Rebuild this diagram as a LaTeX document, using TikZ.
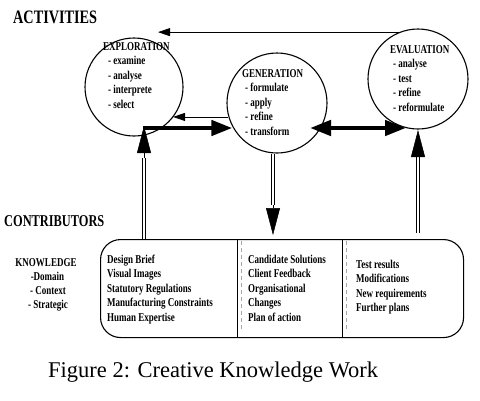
\documentclass[tikz,border=0pt]{standalone}
\usepackage{fontspec}
\setmainfont{Liberation Serif}
\newfontfamily\cond{Liberation Serif}[FakeStretch=0.75]
\usetikzlibrary{arrows.meta}
\begin{document}
\begin{tikzpicture}[x=1pt,y=-1pt,
  txt/.style={inner sep=0pt, anchor=base west, font={\cond\bfseries\fontsize{12}{14}\selectfont}},
  ctxt/.style={txt, anchor=base},
  head/.style={inner sep=0pt, anchor=base west, font={\cond\bfseries\fontsize{19}{22}\selectfont}},
  act/.style={draw, circle, line width=1.1pt, inner sep=0pt},
  thinarrow/.style={line width=0.8pt, -{Triangle[length=12pt,width=8pt]}},
  thickarrow/.style={line width=4.5pt, -{Triangle[length=21pt,width=15pt]}},
  thickboth/.style={line width=4.5pt, {Triangle[length=21pt,width=15pt]}-{Triangle[length=21pt,width=15pt]}},
  dbl/.style={double, line width=0.7pt, double distance=2pt},
  bighead/.style={line width=0.5pt, -{Triangle[length=27pt,width=14pt]}},
]
\useasboundingbox (0,0) rectangle (480,400);

% titles
\node[head] (activities) at (13,23) {ACTIVITIES};
\node[head, font={\cond\bfseries\fontsize{16.5}{20}\selectfont}] (contrib) at (4,226) {CONTRIBUTORS};

% circles
\node[act, minimum size=98pt] (expl) at (134,87) {};
\node[act, minimum size=100pt] (gen) at (277,103) {};
\node[act, minimum size=100pt] (eval) at (418,79) {};

% circle texts
\node[txt] (explT) at (103,50) {EXPLORATION};
\foreach \t [count=\i] in {- examine, - analyse, - interprete, - select}
  \node[txt] (ex\i) at (108,{50+14.5*\i}) {\t};
\node[txt] (genT) at (242,77) {GENERATION};
\foreach \t [count=\i] in {- formulate, - apply, - refine, - transform}
  \node[txt] (ge\i) at (245,{77+14.5*\i}) {\t};
\node[txt] (evalT) at (390,53) {EVALUATION};
\foreach \t [count=\i] in {- analyse, - test, - refine, - reformulate}
  \node[txt] (ev\i) at (393,{53+14.5*\i}) {\t};

% contributors box
\node[draw, line width=1.1pt, rounded corners=20pt, minimum width=363pt, minimum height=98pt,
      anchor=north west, inner sep=0pt] (box) at (100,239) {};
\draw[line width=0.9pt] (237,239) -- (237,337);
\draw[line width=0.9pt] (342,239) -- (342,337);
\draw[gray!70, line width=0.5pt, dash pattern=on 4pt off 3pt] (241,241) -- (241,330);
\draw[gray!70, line width=0.5pt, dash pattern=on 4pt off 3pt] (346,241) -- (346,330);

\foreach \t [count=\i] in {Design Brief, Visual Images, Statutory Regulations, Manufacturing Constraints, Human Expertise}
  \node[txt] (b\i) at (107,{248.5+14.5*\i}) {\t};
\foreach \t [count=\i] in {Candidate Solutions, Client Feedback, Organisational, Changes, Plan of action}
  \node[txt] (c\i) at (248,{248.5+14.5*\i}) {\t};
\foreach \t [count=\i] in {Test results, Modifications, New requirements, Further plans}
  \node[txt] (d\i) at (356,{253.5+14.5*\i}) {\t};

% knowledge
\node[ctxt] (know) at (46,266) {KNOWLEDGE};
\node[ctxt] (k1) at (47.5,280) {-Domain};
\node[ctxt] (k2) at (48,294) {- Context};
\node[ctxt] (k3) at (48,308) {- Strategic};

% caption
\node[anchor=base west, inner sep=0pt, font={\fontsize{22.5}{27}\selectfont}] (cap) at (48,377) {Figure 2: Creative Knowledge Work};

% connectors
\coordinate (tipTop) at (158,0);
\draw[thinarrow] (eval.112) -- (eval.112 -| tipTop);
\draw[thinarrow] (gen.196) -- (gen.196 -| expl.-38);

\coordinate (jA) at (144,128);
\coordinate (jAb) at (144,158);
\draw[thickarrow] ([xshift=-1pt]jA) -- (jA -| gen.208);
\draw[dbl] (jA |- box.north) -- (jAb);
\draw[bighead] (jAb) -- ([yshift=2pt]jA);

\coordinate (dL) at (310,128);
\coordinate (dR) at (406,128);
\draw[thickboth] (dL) -- (dR);

\coordinate (jE) at (418,130);
\coordinate (jEb) at (418,156);
\coordinate (jEs) at (418,233);
\draw[dbl] (jEs) -- (jEb);
\draw[bighead] (jEb) -- (jE);

\coordinate (gB) at (273,205);
\coordinate (gT) at (273,235);
\draw[dbl] (gen.south -| gB) -- (gB);
\draw[bighead] (gB) -- (gT);
\end{tikzpicture}
\end{document}
